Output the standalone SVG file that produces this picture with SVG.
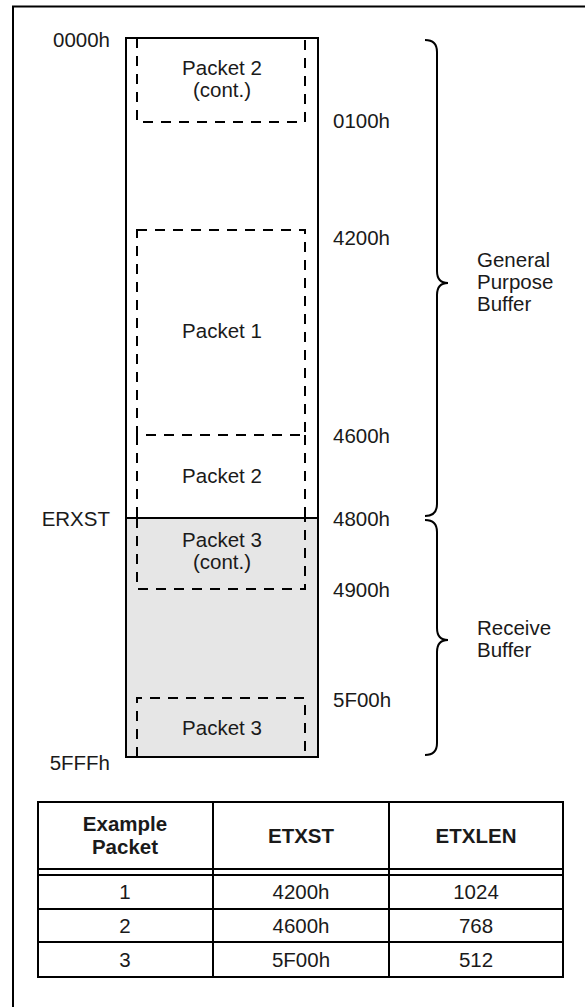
<svg xmlns="http://www.w3.org/2000/svg" width="585" height="1007" viewBox="0 0 585 1007">
<style>
text{font-family:"Liberation Sans",Arial,sans-serif;font-size:20.5px;fill:#1a1a1a}
.c{text-anchor:middle}
.e{text-anchor:end}
.b{font-weight:bold}
.solid{fill:none;stroke:#000;stroke-width:2}
.dash{fill:none;stroke:#000;stroke-width:2;stroke-dasharray:10 8}
.tbl{fill:none;stroke:#000;stroke-width:2}
</style>
<rect width="585" height="1007" fill="#fff"/>
<path class="solid" d="M13,1007 V6.5 H585"/>

<g id="memory">
  <rect x="126" y="518" width="192" height="239" fill="#e6e6e6"/>
  <rect class="solid" x="126" y="38" width="192" height="719"/>
  <line class="solid" x1="126" y1="518" x2="318" y2="518"/>
</g>

<g id="pkt2cont">
  <path class="dash" d="M137,38 V122 H305 V38"/>
  <text class="c" x="222" y="75">Packet 2</text>
  <text class="c" x="222" y="97">(cont.)</text>
</g>
<g id="pkt1">
  <rect class="dash" x="137" y="230" width="168" height="205"/>
  <text class="c" x="222" y="338">Packet 1</text>
</g>
<g id="pkt2">
  <path class="dash" d="M137,435 V518 M305,435 V518"/>
  <text class="c" x="222" y="483">Packet 2</text>
</g>
<g id="pkt3cont">
  <path class="dash" d="M137,518 V589 H305 V518"/>
  <text class="c" x="222" y="547">Packet 3</text>
  <text class="c" x="222" y="569">(cont.)</text>
</g>
<g id="pkt3">
  <path class="dash" d="M137,757 V698 H305 V757"/>
  <text class="c" x="222" y="735">Packet 3</text>
</g>

<g id="addr-left">
  <text class="e" x="110" y="47">0000h</text>
  <text class="e" x="110" y="526">ERXST</text>
  <text class="e" x="110" y="770">5FFFh</text>
</g>
<g id="addr-right">
  <text x="333" y="128">0100h</text>
  <text x="333" y="245">4200h</text>
  <text x="333" y="443">4600h</text>
  <text x="333" y="526">4800h</text>
  <text x="333" y="597">4900h</text>
  <text x="333" y="707">5F00h</text>
</g>

<g id="connectors">
  <path class="solid" d="M425,40 Q437,40 437,52 V271 Q437,283 448,283 Q437,283 437,295 V504 Q437,516 425,516"/>
  <path class="solid" d="M425,520 Q437,520 437,532 V628 Q437,640 448,640 Q437,640 437,652 V743 Q437,755 425,755"/>
</g>

<g id="gpb">
  <text x="477" y="267">General</text>
  <text x="477" y="289">Purpose</text>
  <text x="477" y="311">Buffer</text>
</g>
<g id="rxb">
  <text x="477" y="635">Receive</text>
  <text x="477" y="657">Buffer</text>
</g>

<g id="table">
  <rect class="tbl" x="38" y="802" width="525" height="175"/>
  <line class="tbl" x1="38" y1="869" x2="563" y2="869"/>
  <line class="tbl" x1="38" y1="875" x2="563" y2="875"/>
  <line class="tbl" x1="38" y1="909" x2="563" y2="909"/>
  <line class="tbl" x1="38" y1="942" x2="563" y2="942"/>
  <line class="tbl" x1="213" y1="802" x2="213" y2="977"/>
  <line class="tbl" x1="389" y1="802" x2="389" y2="977"/>
  <text class="c b" x="125" y="831">Example</text>
  <text class="c b" x="125" y="854">Packet</text>
  <text class="c b" x="301" y="843">ETXST</text>
  <text class="c b" x="476" y="843">ETXLEN</text>
  <text class="c" x="125" y="899">1</text>
  <text class="c" x="301" y="899">4200h</text>
  <text class="c" x="476" y="899">1024</text>
  <text class="c" x="125" y="933">2</text>
  <text class="c" x="301" y="933">4600h</text>
  <text class="c" x="476" y="933">768</text>
  <text class="c" x="125" y="967">3</text>
  <text class="c" x="301" y="967">5F00h</text>
  <text class="c" x="476" y="967">512</text>
</g>
</svg>
